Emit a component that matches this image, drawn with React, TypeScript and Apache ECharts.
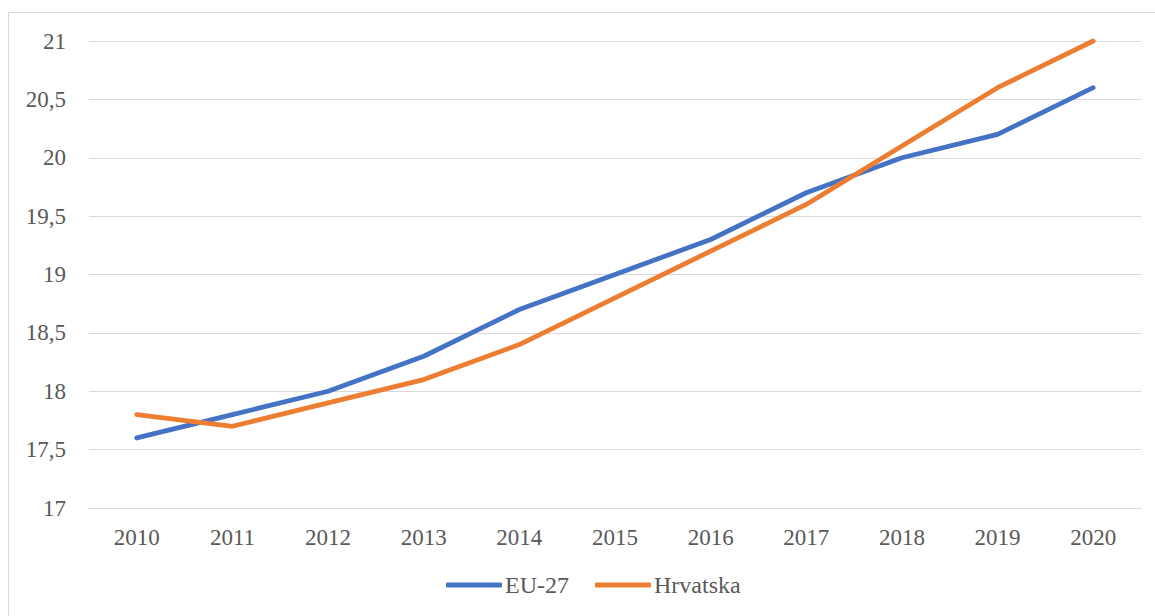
import React, { useEffect, useRef } from "react";
import * as echarts from "echarts";

const years = ["2010", "2011", "2012", "2013", "2014", "2015", "2016", "2017", "2018", "2019", "2020"];
const eu27 = [17.6, 17.8, 18.0, 18.3, 18.7, 19.0, 19.3, 19.7, 20.0, 20.2, 20.6];
const hrvatska = [17.8, 17.7, 17.9, 18.1, 18.4, 18.8, 19.2, 19.6, 20.1, 20.6, 21.0];

const FONT = "Times New Roman, Liberation Serif, DejaVu Serif, serif";
const TEXT = "#595959";

export default function App() {
  const ref = useRef<HTMLDivElement>(null);
  useEffect(() => {
    if (!ref.current) return;
    const chart = echarts.init(ref.current, null, { renderer: "svg" });
    chart.setOption({
      animation: false,
      textStyle: { fontFamily: FONT },
      graphic: [
        {
          type: "rect",
          shape: { x: 8.5, y: 12.5, width: 1160, height: 620 },
          style: { fill: "none", stroke: "#D9D9D9", lineWidth: 1 },
          silent: true,
        },
      ],
      grid: { left: 89, right: 14, top: 41, bottom: 108, containLabel: false },
      legend: {
        bottom: 14,
        left: 441,
        itemWidth: 56,
        itemHeight: 5,
        itemGap: 26,
        icon: "roundRect",
        textStyle: { fontFamily: FONT, fontSize: 24, color: TEXT, padding: [0, 0, 0, -2] },
        data: ["EU-27", "Hrvatska"],
      },
      xAxis: {
        type: "category",
        data: years,
        boundaryGap: true,
        axisLine: { show: true, lineStyle: { color: "#D9D9D9", width: 1 } },
        axisTick: { show: false },
        axisLabel: { fontFamily: FONT, fontSize: 23, color: TEXT, margin: 18 },
      },
      yAxis: {
        type: "value",
        min: 17,
        max: 21,
        interval: 0.5,
        axisLine: { show: false },
        axisTick: { show: false },
        splitLine: { lineStyle: { color: "#D9D9D9", width: 1 } },
        axisLabel: {
          fontFamily: FONT,
          fontSize: 23,
          color: TEXT,
          margin: 23,
          formatter: (v: number) => String(v).replace(".", ","),
        },
      },
      series: [
        {
          name: "EU-27",
          type: "line",
          data: eu27,
          symbol: "none",
          lineStyle: { color: "#4472C4", width: 4.8, cap: "round", join: "round" },
          itemStyle: { color: "#4472C4" },
        },
        {
          name: "Hrvatska",
          type: "line",
          data: hrvatska,
          symbol: "none",
          lineStyle: { color: "#ED7D31", width: 4.8, cap: "round", join: "round" },
          itemStyle: { color: "#ED7D31" },
        },
      ],
    });
    return () => chart.dispose();
  }, []);
  return (
    <div
      ref={ref}
      style={{ position: "fixed", left: 0, top: 0, width: 1155, height: 616, background: "#fff" }}
    />
  );
}
